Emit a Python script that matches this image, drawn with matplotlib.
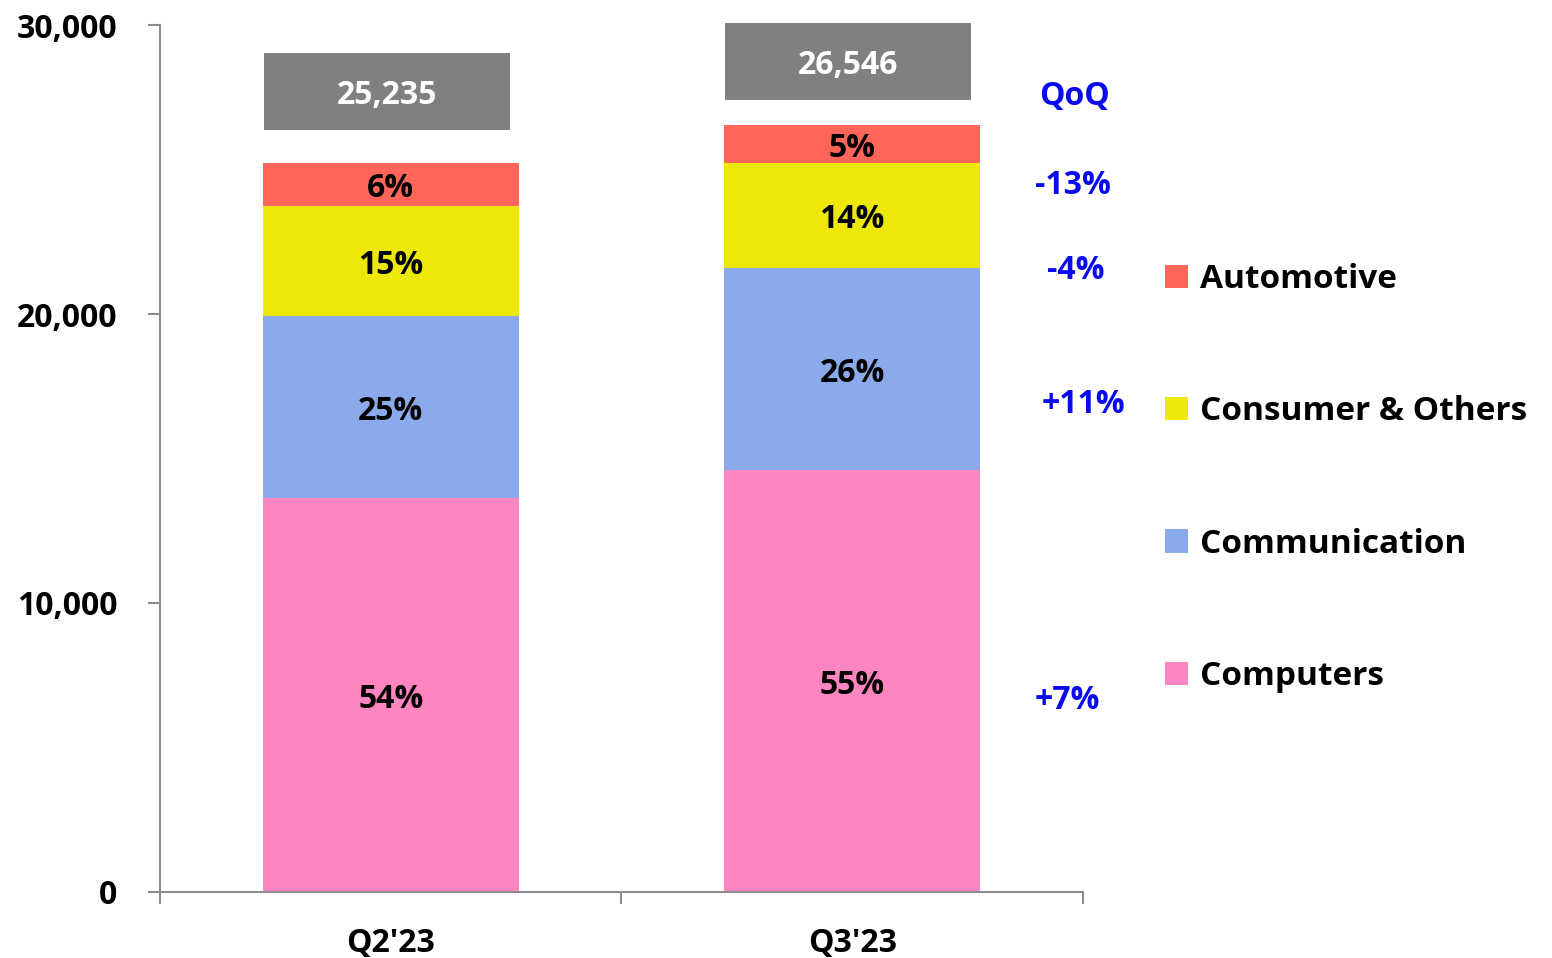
"""
Stacked revenue by segment, Q2'23 vs Q3'23, with QoQ change column.
"""

import matplotlib
matplotlib.use("Agg")
import matplotlib.pyplot as plt
from matplotlib.patches import Rectangle, Patch

plt.rcParams["font.family"] = ["Open Sans", "DejaVu Sans"]
plt.rcParams["font.weight"] = "bold"

# Data (bottom to top)
quarters = ["Q2'23", "Q3'23"]
segments = ["Computers", "Communication", "Consumer & Others", "Automotive"]
computers = [13627, 14592]
communication = [6309, 7003]
consumer = [3785, 3634]
automotive = [1514, 1317]
totals = [25235, 26546]

colors = ["#FF85C0", "#8AAAEB", "#EEE80A", "#FF6659"]

# Layout helpers (not data)
total_box_y = [27700, 28740]   # centres of the grey total boxes
qoq_y = [24600, 21660, 17020, 6780]  # automotive, consumer, communication, computers
qoq_x = [1.478, 1.485, 1.500, 1.466]
qoq_header = (1.482, 27680)

FS = 23
DY = -3  # small downward nudge so glyphs sit like the original


def label(ax, x, y, s, color="black", **kw):
    ax.annotate(s, (x, y), xytext=(0, DY), textcoords="offset points",
                ha="center", va="center", fontsize=FS, fontweight="bold",
                color=color, annotation_clip=False, **kw)


def main():
    series = [computers, communication, consumer, automotive]
    fig = plt.figure(figsize=(15.52, 9.58), dpi=100)
    ax = fig.add_axes([0.1031, 0.0689, 0.5947, 0.9050])

    x = list(range(len(quarters)))
    bottoms = [0.0] * len(quarters)
    width = 0.555
    for vals, col in zip(series, colors):
        ax.bar(x, vals, width=width, bottom=bottoms, color=col, linewidth=0)
        for i, v in enumerate(vals):
            share = round(100 * v / totals[i])
            label(ax, x[i], bottoms[i] + v / 2, f"{share}%")
        bottoms = [b + v for b, v in zip(bottoms, vals)]

    # Grey total boxes
    box_w, box_h = 0.533, 2664
    for i, t in enumerate(totals):
        cx = x[i] - 0.009
        ax.add_patch(Rectangle((cx - box_w / 2, total_box_y[i] - box_h / 2), box_w, box_h,
                               facecolor="#808080", edgecolor="none", clip_on=False))
        label(ax, cx, total_box_y[i], f"{t:,}", color="white")

    # QoQ column
    blue = "#0A0AF0"
    label(ax, qoq_header[0], qoq_header[1], "QoQ", color=blue)
    for k, vals in enumerate(series[::-1]):
        chg = round(100 * (vals[1] / vals[0] - 1))
        label(ax, qoq_x[k], qoq_y[k], f"{chg:+d}%", color=blue)

    # Axes styling
    ax.set_xlim(-0.5, 1.5)
    ax.set_ylim(0, 30000)
    ax.set_yticks([0, 10000, 20000, 30000])
    ax.set_yticklabels([f"{v:,}" for v in [0, 10000, 20000, 30000]])
    ax.set_xticks([-0.5, 0.5, 1.5])
    ax.set_xticklabels([])
    ax.set_xticks(x, minor=True)
    ax.set_xticklabels(quarters, minor=True)
    ax.tick_params(axis="x", which="minor", length=0, pad=25, labelsize=FS)
    ax.tick_params(axis="x", which="major", length=8.6, width=1.5, color="#8C8C8C",
                   direction="out")
    ax.tick_params(axis="y", length=8.6, width=1.5, color="#8C8C8C", pad=22, labelsize=FS)
    for lab in ax.get_yticklabels() + ax.get_xticklabels(minor=True):
        lab.set_fontweight("bold")
    for s in ["top", "right"]:
        ax.spines[s].set_visible(False)
    for s in ["left", "bottom"]:
        ax.spines[s].set_color("#8C8C8C")
        ax.spines[s].set_linewidth(1.5)

    # Legend (top to bottom: reverse stacking order)
    handles = [Patch(facecolor=c, edgecolor="none") for c in colors[::-1]]
    fig.legend(handles, segments[::-1], loc="upper left",
               bbox_to_anchor=(1165 / 1552, 1 - 263 / 958), frameon=False,
               handlelength=0.7, handleheight=0.7, handletextpad=0.36,
               labelspacing=2.98, borderpad=0, borderaxespad=0,
               prop={"weight": "bold", "size": 24})

    fig.savefig("out.png", dpi=100)
    plt.close(fig)


if __name__ == "__main__":
    main()
